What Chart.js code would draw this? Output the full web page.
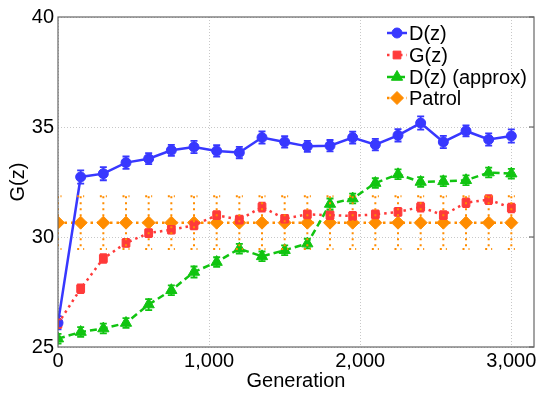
<!DOCTYPE html>
<html>
<head>
<meta charset="utf-8">
<script src="https://cdn.jsdelivr.net/npm/chart.js@4/dist/chart.umd.min.js"></script>
<style>
  html, body { margin: 0; padding: 0; background: #fff; }
  #wrap { width: 536px; height: 393px; }
</style>
</head>
<body>
<div id="wrap"><canvas id="chart" width="536" height="393"></canvas></div>
<script>
// values
const generations = [0, 150, 300, 450, 600, 750, 900, 1050, 1200, 1350, 1500,
  1650, 1800, 1950, 2100, 2250, 2400, 2550, 2700, 2850, 3000];

const dzValues = [26.1, 32.73, 32.88, 33.38, 33.56, 33.94, 34.09, 33.91, 33.84, 34.52, 34.32,
  34.12, 34.15, 34.52, 34.2, 34.62, 35.18, 34.32, 34.82, 34.43, 34.59];
const dzErrors = [0.3, 0.3, 0.3, 0.28, 0.25, 0.25, 0.28, 0.26, 0.26, 0.28, 0.26,
  0.25, 0.26, 0.27, 0.26, 0.28, 0.3, 0.28, 0.25, 0.28, 0.3];

const gzValues = [26.06, 27.65, 29.02, 29.73, 30.18, 30.33, 30.53, 30.99, 30.79, 31.36, 30.83,
  31.03, 30.99, 30.96, 31.03, 31.14, 31.36, 30.99, 31.56, 31.7, 31.32];
const gzErrors = [0.2, 0.2, 0.2, 0.18, 0.18, 0.18, 0.18, 0.18, 0.18, 0.2, 0.18,
  0.18, 0.18, 0.18, 0.18, 0.18, 0.2, 0.18, 0.2, 0.2, 0.2];

const dzApproxValues = [25.38, 25.68, 25.84, 26.09, 26.93, 27.58, 28.41, 28.86, 29.47, 29.12, 29.4,
  29.7, 31.5, 31.75, 32.45, 32.85, 32.5, 32.53, 32.58, 32.93, 32.88];
const dzApproxErrors = [0.22, 0.22, 0.22, 0.22, 0.25, 0.22, 0.25, 0.22, 0.22, 0.22, 0.22,
  0.22, 0.25, 0.22, 0.22, 0.22, 0.22, 0.22, 0.22, 0.22, 0.22];

const patrolValues = [30.65, 30.65, 30.65, 30.65, 30.65, 30.65, 30.65, 30.65, 30.65, 30.65, 30.65,
  30.65, 30.65, 30.65, 30.65, 30.65, 30.65, 30.65, 30.65, 30.65, 30.65];
const patrolErrors = [1.2, 1.2, 1.2, 1.2, 1.2, 1.2, 1.2, 1.2, 1.2, 1.2, 1.2,
  1.2, 1.2, 1.2, 1.2, 1.2, 1.2, 1.2, 1.2, 1.2, 1.2];

const seriesLabels = ['D(z)', 'G(z)', 'D(z) (approx)', 'Patrol'];
const xTicks = [0, 1000, 2000, 3000];
const yTicks = [25, 30, 35, 40];

const FONT = '"Liberation Sans", Arial, Helvetica, sans-serif';

function toPoints(values) {
  return generations.map((g, i) => ({ x: g, y: values[i] }));
}

function makeSet(label, values, errors, color, style, dash, radius) {
  return {
    label: label,
    data: toPoints(values),
    errors: errors,
    borderColor: color,
    backgroundColor: color,
    borderWidth: 2.5,
    borderDash: dash,
    pointStyle: style,
    pointRadius: radius,
    pointBorderWidth: 1,
    pointBorderColor: color,
    pointBackgroundColor: color,
    tension: 0
  };
}

// error bars drawn from each point's own pixel position
const errorBars = {
  id: 'errorBars',
  afterDatasetsDraw(chart) {
    const ctx = chart.ctx;
    const yScale = chart.scales.y;
    const area = chart.chartArea;
    ctx.save();
    ctx.beginPath();
    ctx.rect(area.left, area.top, area.right - area.left, area.bottom - area.top);
    ctx.clip();
    chart.data.datasets.forEach((ds, i) => {
      const meta = chart.getDatasetMeta(i);
      const dotted = ds.label === 'Patrol';
      ctx.strokeStyle = ds.borderColor;
      ctx.lineWidth = dotted ? 2 : 1.8;
      ctx.setLineDash(dotted ? [2, 4] : []);
      meta.data.forEach((pt, j) => {
        const v = ds.data[j].y;
        const e = ds.errors[j];
        const yTop = yScale.getPixelForValue(v + e);
        const yBot = yScale.getPixelForValue(v - e);
        ctx.beginPath();
        ctx.moveTo(pt.x, yTop);
        ctx.lineTo(pt.x, yBot);
        ctx.moveTo(pt.x - 3.5, yTop);
        ctx.lineTo(pt.x + 3.5, yTop);
        ctx.moveTo(pt.x - 3.5, yBot);
        ctx.lineTo(pt.x + 3.5, yBot);
        ctx.stroke();
      });
    });
    ctx.restore();
  }
};

// frame around plot area plus legend inside the top right corner
const frameAndLegend = {
  id: 'frameAndLegend',
  afterDraw(chart) {
    const ctx = chart.ctx;
    const a = chart.chartArea;
    ctx.save();
    ctx.strokeStyle = '#666';
    ctx.lineWidth = 1.2;
    ctx.setLineDash([]);
    ctx.strokeRect(a.left, a.top, a.right - a.left, a.bottom - a.top);

    // small inner ticks on the right side
    yTicks.forEach(v => {
      const y = chart.scales.y.getPixelForValue(v);
      ctx.beginPath();
      ctx.moveTo(a.right, y);
      ctx.lineTo(a.right - 5, y);
      ctx.stroke();
    });

    const x0 = 387, x1 = 407, textX = 409;
    const rows = [33, 55, 77, 98];
    ctx.font = '20px ' + FONT;
    ctx.textBaseline = 'middle';
    ctx.textAlign = 'left';
    chart.data.datasets.forEach((ds, i) => {
      const y = rows[i];
      ctx.strokeStyle = ds.borderColor;
      ctx.fillStyle = ds.borderColor;
      ctx.lineWidth = 2.5;
      ctx.setLineDash(ds.borderDash || []);
      ctx.beginPath();
      ctx.moveTo(x0, y);
      ctx.lineTo(x1, y);
      ctx.stroke();
      ctx.setLineDash([]);
      ctx.lineWidth = 1;
      Chart.helpers.drawPoint(ctx, {
        pointStyle: ds.pointStyle,
        radius: ds.pointRadius,
        borderWidth: 1,
        rotation: 0
      }, (x0 + x1) / 2, y);
      ctx.fillStyle = '#000';
      ctx.fillText(seriesLabels[i], textX, y + 1);
    });
    ctx.restore();
  }
};

const ctx = document.getElementById('chart').getContext('2d');
new Chart(ctx, {
  type: 'line',
  data: {
    datasets: [
      makeSet(seriesLabels[0], dzValues, dzErrors, '#3838ff', 'circle', [], 5),
      makeSet(seriesLabels[1], gzValues, gzErrors, '#ff3a3a', 'rect', [2.5, 4], 5.5),
      makeSet(seriesLabels[2], dzApproxValues, dzApproxErrors, '#11c411', 'triangle', [7, 4], 6.5),
      makeSet(seriesLabels[3], patrolValues, patrolErrors, '#ff8c00', 'rectRot', [2.5, 4], 6.5)
    ]
  },
  options: {
    responsive: false,
    animation: false,
    devicePixelRatio: 1,
    layout: { autoPadding: false, padding: { top: 17, right: 2, left: 0, bottom: 0 } },
    plugins: {
      legend: { display: false },
      tooltip: { enabled: false }
    },
    scales: {
      x: {
        type: 'linear',
        min: 0,
        max: 3150,
        afterBuildTicks: s => { s.ticks = xTicks.map(v => ({ value: v })); },
        afterFit: s => { s.height = 46; s.paddingLeft = 0; s.paddingRight = 0; },
        ticks: {
          color: '#000',
          font: { family: FONT, size: 20 },
          padding: 2,
          maxRotation: 0,
          callback: v => v.toLocaleString('en-US')
        },
        grid: { color: '#c8c8c8', drawTicks: false, lineWidth: 1 },
        border: { display: false, dash: [1, 2] },
        title: {
          display: true,
          text: 'Generation',
          color: '#000',
          font: { family: FONT, size: 20 },
          padding: { top: 0, bottom: 0 }
        }
      },
      y: {
        min: 25,
        max: 40,
        afterBuildTicks: s => { s.ticks = yTicks.map(v => ({ value: v })); },
        afterFit: s => { s.width = 58; s.paddingTop = 0; s.paddingBottom = 0; },
        ticks: {
          color: '#000',
          font: { family: FONT, size: 20 },
          padding: 4
        },
        grid: { color: '#c8c8c8', drawTicks: false, lineWidth: 1 },
        border: { display: false, dash: [1, 2] },
        title: {
          display: true,
          text: 'G(z)',
          color: '#000',
          font: { family: FONT, size: 20 },
          padding: { top: 6, bottom: 0 }
        }
      }
    }
  },
  plugins: [errorBars, frameAndLegend]
});
</script>
</body>
</html>
